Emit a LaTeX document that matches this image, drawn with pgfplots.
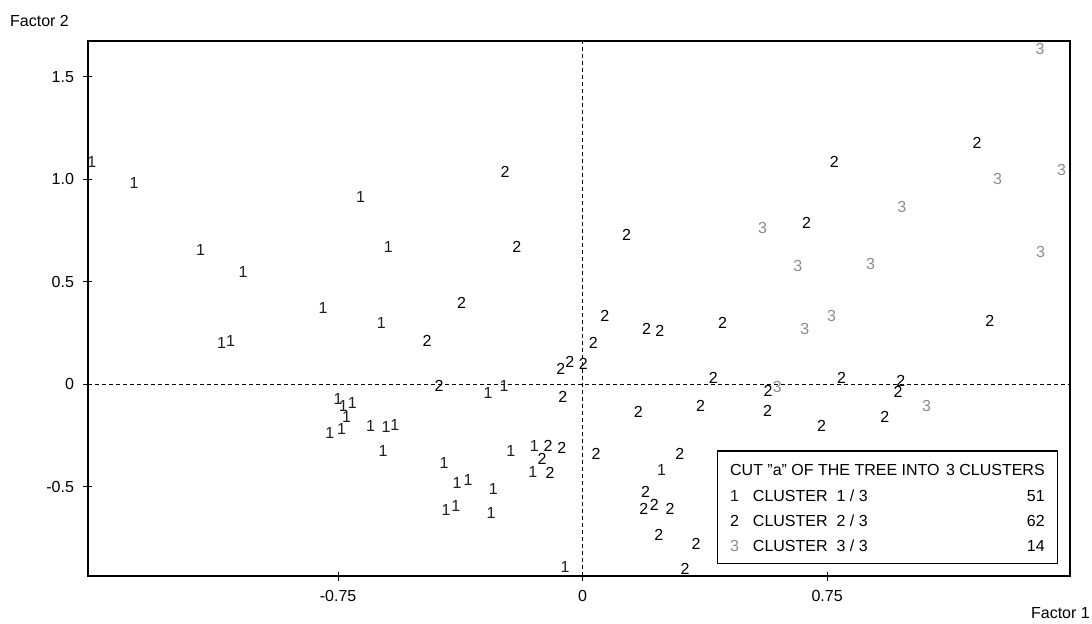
\documentclass[border=0pt]{standalone}
\usepackage{fontspec}
\setmainfont{Liberation Sans}
\usepackage{pgfplots}
\usepackage{pgfplotstable}
\pgfplotsset{compat=1.18}
\definecolor{cone}{HTML}{1E1E1E}
\definecolor{ctwo}{HTML}{000000}
\definecolor{cthree}{HTML}{8C8C8C}
\newcommand{\ff}{\fontsize{16bp}{19bp}\selectfont}
\pgfplotstableread{
x y
-1.505 1.084
-1.376 0.982
-1.172 0.655
-1.041 0.546
-0.796 0.371
-0.681 0.915
-0.596 0.668
-1.107 0.200
-1.080 0.213
-0.750 -0.073
-0.734 -0.106
-0.706 -0.093
-0.724 -0.161
-0.775 -0.239
-0.739 -0.220
-0.617 0.298
-0.650 -0.203
-0.603 -0.210
-0.576 -0.199
-0.612 -0.324
-0.425 -0.382
-0.385 -0.480
-0.351 -0.467
-0.274 -0.509
-0.419 -0.613
-0.389 -0.594
-0.281 -0.629
-0.290 -0.041
-0.241 -0.007
-0.220 -0.324
-0.148 -0.301
-0.153 -0.426
-0.054 -0.890
0.242 -0.418
}\clusterone
\pgfplotstableread{
x y
-0.238 1.037
-0.202 0.668
0.135 0.728
-0.371 0.397
0.068 0.333
-0.477 0.213
0.196 0.268
0.237 0.261
0.033 0.203
-0.067 0.073
-0.039 0.110
0.002 0.102
-0.440 -0.008
-0.061 -0.063
0.401 0.029
0.171 -0.134
0.362 -0.106
-0.106 -0.301
-0.064 -0.309
-0.124 -0.366
-0.100 -0.434
0.041 -0.337
0.298 -0.337
0.193 -0.524
0.188 -0.610
0.220 -0.589
0.268 -0.608
0.234 -0.735
0.348 -0.779
0.314 -0.902
1.210 1.179
0.772 1.083
0.687 0.788
0.429 0.300
1.249 0.310
0.569 -0.031
0.794 0.029
0.976 0.018
0.968 -0.036
0.567 -0.130
0.733 -0.203
0.927 -0.161
}\clustertwo
\pgfplotstableread{
x y
1.403 1.634
1.469 1.045
1.273 1.001
0.979 0.866
0.552 0.764
0.660 0.579
0.883 0.585
1.405 0.644
0.682 0.268
0.764 0.333
0.597 -0.015
1.055 -0.106
}\clusterthree
\begin{document}
\begin{tikzpicture}
\begin{axis}[
  scale only axis, width=982bp, height=535bp,
  xmin=-1.517, xmax=1.495, ymin=-0.935, ymax=1.675,
  axis line style={line width=1.3bp},
  xtick={-0.75,0,0.75}, xticklabels={-0.75,0,0.75},
  ytick={-0.5,0,0.5,1,1.5}, yticklabels={-0.5,0,0.5,1.0,1.5},
  tick pos=left, tick align=center, major tick length=9bp,
  tick style={line width=1.1bp, black},
  ticklabel style={font=\ff},
  yticklabel style={xshift=-6bp},
  xticklabel style={yshift=-6bp},
  clip=false,
  nodes near coords align={center},
]
\addplot[black, line width=1.1bp, dash pattern=on 4bp off 3bp] coordinates {(0,-0.935) (0,1.675)};
\addplot[black, line width=1.1bp, dash pattern=on 4bp off 3bp] coordinates {(-1.517,0) (1.495,0)};
\addplot[draw=none, mark=none, nodes near coords={1},
  every node near coord/.style={anchor=center, inner sep=0pt, font=\ff, text=cone}] table {\clusterone};
\addplot[draw=none, mark=none, nodes near coords={2},
  every node near coord/.style={anchor=center, inner sep=0pt, font=\ff, text=ctwo}] table {\clustertwo};
\addplot[draw=none, mark=none, nodes near coords={3},
  every node near coord/.style={anchor=center, inner sep=0pt, font=\ff, text=cthree}] table {\clusterthree};
\draw[line width=1.3bp, fill=white] (axis cs:0.413,-0.325) rectangle (axis cs:1.457,-0.873);
\node[anchor=west, inner sep=0pt, font=\ff] at (axis cs:0.452,-0.418) {CUT "a" OF THE TREE INTO};
\node[anchor=east, inner sep=0pt, font=\ff] at (axis cs:1.418,-0.418) {3 CLUSTERS};
\node[anchor=west, inner sep=0pt, font=\ff, text=cone] at (axis cs:0.452,-0.545) {1};
\node[anchor=west, inner sep=0pt, font=\ff] at (axis cs:0.522,-0.545) {CLUSTER\ \ 1 / 3};
\node[anchor=east, inner sep=0pt, font=\ff] at (axis cs:1.418,-0.545) {51};
\node[anchor=west, inner sep=0pt, font=\ff, text=ctwo] at (axis cs:0.452,-0.665) {2};
\node[anchor=west, inner sep=0pt, font=\ff] at (axis cs:0.522,-0.665) {CLUSTER\ \ 2 / 3};
\node[anchor=east, inner sep=0pt, font=\ff] at (axis cs:1.418,-0.665) {62};
\node[anchor=west, inner sep=0pt, font=\ff, text=cthree] at (axis cs:0.452,-0.789) {3};
\node[anchor=west, inner sep=0pt, font=\ff] at (axis cs:0.522,-0.789) {CLUSTER\ \ 3 / 3};
\node[anchor=east, inner sep=0pt, font=\ff] at (axis cs:1.418,-0.789) {14};
\end{axis}
\node[anchor=west, inner sep=0pt, font=\ff] at ([shift={(-78bp,20bp)}]current axis.north west) {Factor 2};
\node[anchor=east, inner sep=0pt, font=\ff] at ([shift={(20bp,-37bp)}]current axis.south east) {Factor 1};
\pgfresetboundingbox
\path ([shift={(-88bp,-48bp)}]current axis.south west) rectangle ([shift={(22bp,41bp)}]current axis.north east);
\end{tikzpicture}
\end{document}
